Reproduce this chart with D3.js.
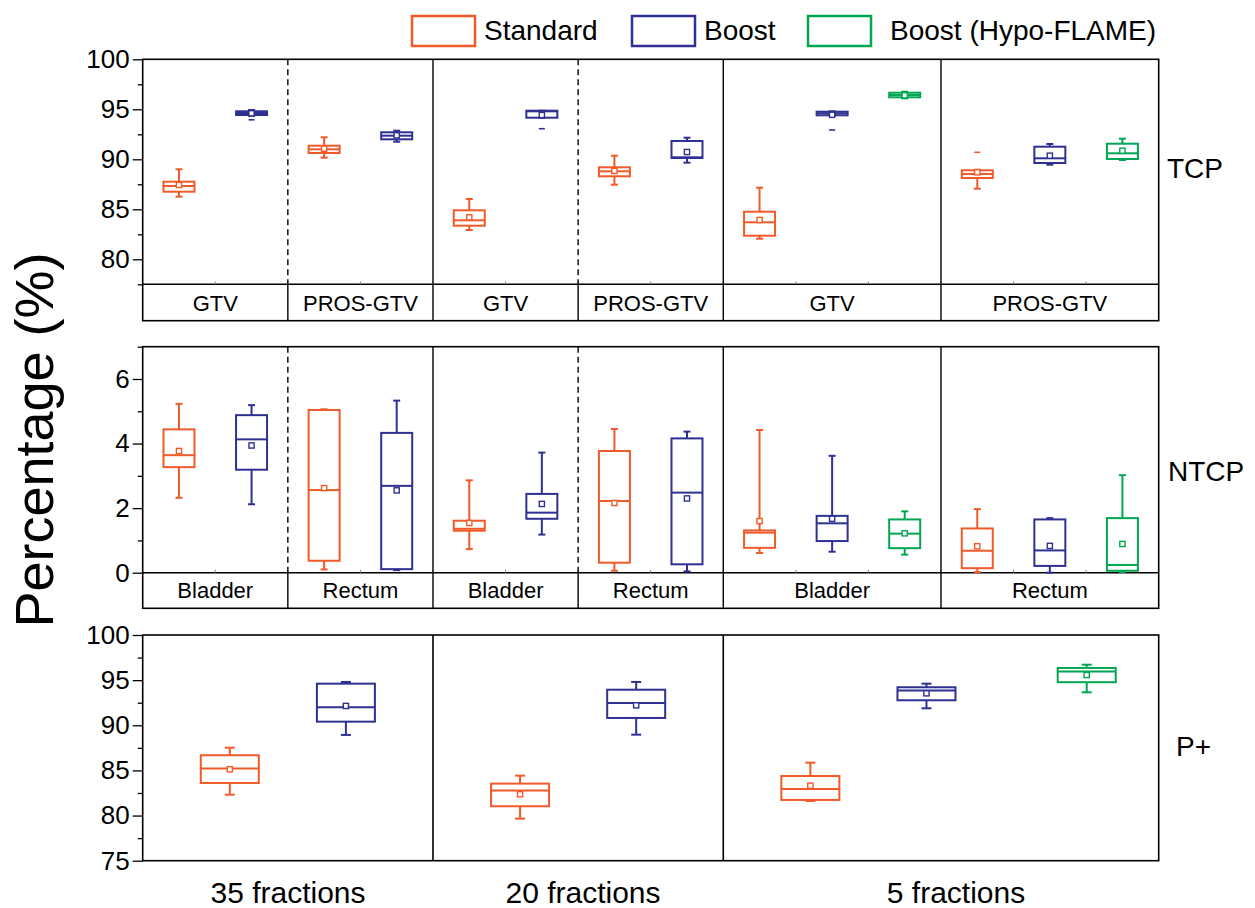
<!DOCTYPE html>
<html>
<head>
<meta charset="utf-8">
<script src="https://cdn.jsdelivr.net/npm/d3@7"></script>
<style>
  body { margin: 0; background: #fff; }
  text { font-family: "Liberation Sans", Arial, sans-serif; fill: #000; }
</style>
</head>
<body>
<svg id="chart" width="1255" height="908"></svg>
<script>
// ---- data ----
const seriesNames = ["Standard", "Boost", "Boost (Hypo-FLAME)"];
const seriesColors = ["#f15a29", "#2e3192", "#00a651"];
const groupNames = ["35 fractions", "20 fractions", "5 fractions"];
const tcpRegions = ["GTV", "PROS-GTV", "GTV", "PROS-GTV", "GTV", "PROS-GTV"];
const ntcpRegions = ["Bladder", "Rectum", "Bladder", "Rectum", "Bladder", "Rectum"];
const panelLabels = ["TCP", "NTCP", "P+"];

// series of each box slot (TCP and NTCP panels, 14 slots)
const slotSeries = [0, 1, 0, 1, 0, 1, 0, 1, 0, 1, 2, 0, 1, 2];
// slot ranges of each region (for the label strips)
const regionSlots = [[0, 2], [2, 4], [4, 6], [6, 8], [8, 11], [11, 14]];
// dividers: slot boundary, dashed or not
const dividerSlots = [2, 4, 6, 8, 11];
const dashedSlots = [2, 6];

// each row: [whisker low, Q1, median, Q3, whisker high, mean]
const tcpStats = [
  [86.26, 86.76, 87.33, 87.76, 89.0, 87.43],
  [94.35, 94.43, 94.63, 94.8, 94.93, 94.6],
  [90.16, 90.63, 91.0, 91.36, 92.2, 91.06],
  [91.76, 92.0, 92.36, 92.7, 92.86, 92.4],
  [82.93, 83.36, 83.9, 84.9, 86.03, 84.2],
  [94.16, 94.16, 94.8, 94.86, 94.86, 94.43],
  [87.46, 88.3, 88.8, 89.2, 90.36, 88.83],
  [89.66, 90.13, 90.2, 91.83, 92.16, 90.73],
  [82.06, 82.36, 83.7, 84.76, 87.16, 83.93],
  [94.4, 94.4, 94.6, 94.76, 94.8, 94.45],
  [96.1, 96.2, 96.43, 96.66, 96.76, 96.4],
  [87.06, 88.13, 88.53, 88.9, 88.96, 88.7],
  [89.46, 89.63, 90.1, 91.26, 91.53, 90.36],
  [89.93, 90.03, 90.6, 91.56, 92.06, 90.86]
];
// extra min / max dashes: [slot, value]
const tcpExtremes = [[1, 93.95], [5, 93.06], [9, 92.93], [11, 90.7]];

const ntcpStats = [
  [2.32, 3.27, 3.64, 4.44, 5.23, 3.77],
  [2.12, 3.19, 4.13, 4.88, 5.19, 3.94],
  [0.1, 0.37, 2.56, 5.04, 5.06, 2.62],
  [0.08, 0.11, 2.69, 4.33, 5.33, 2.55],
  [0.73, 1.3, 1.36, 1.61, 2.86, 1.54],
  [1.18, 1.67, 1.86, 2.44, 3.72, 2.13],
  [0.06, 0.31, 2.22, 3.77, 4.45, 2.16],
  [0.04, 0.26, 2.48, 4.16, 4.37, 2.3],
  [0.61, 0.77, 1.24, 1.31, 4.42, 1.6],
  [0.65, 0.98, 1.53, 1.76, 3.62, 1.67],
  [0.56, 0.76, 1.21, 1.65, 1.9, 1.22],
  [0.02, 0.14, 0.68, 1.37, 1.97, 0.82],
  [0.0, 0.21, 0.69, 1.65, 1.69, 0.83],
  [0.02, 0.06, 0.24, 1.69, 3.02, 0.89]
];

// P+ panel: series and category position of each box
const pplusSeries = [0, 1, 0, 1, 0, 1, 2];
const pplusPos = [0.75, 1.75, 3.25, 4.25, 5.75, 6.75, 8.13];
const pplusGroupBounds = [0, 2.5, 5, 8.75];
const pplusStats = [
  [82.31, 83.61, 85.2, 86.68, 87.52, 85.13],
  [88.93, 90.4, 91.99, 94.61, 94.8, 92.14],
  [79.66, 81.03, 82.77, 83.54, 84.42, 82.36],
  [88.96, 90.81, 92.47, 93.94, 94.8, 92.21],
  [81.62, 81.73, 82.95, 84.38, 85.86, 83.31],
  [91.88, 92.77, 93.84, 94.21, 94.61, 93.54],
  [93.65, 94.77, 95.95, 96.35, 96.71, 95.57]
];

const tcpTicks = [80, 85, 90, 95, 100];
const ntcpTicks = [0, 2, 4, 6];
const pplusTicks = [75, 80, 85, 90, 95, 100];

// ---- layout ----
const svg = d3.select("#chart");
const xLeft = 142.7, xRight = 1158.7;

const xSlot = d3.scaleLinear().domain([0, 14]).range([xLeft, xRight]);
const xP = d3.scaleLinear().domain([0, 8.75]).range([xLeft, xRight]);

const yTcp = d3.scaleLinear().domain([77.5, 100]).range([284.3, 59.3]);
const yNtcp = d3.scaleLinear().domain([0, 7]).range([572.7, 346.7]);
const yP = d3.scaleLinear().domain([75, 100]).range([860.7, 635]);

function drawBoxes(g, stats, xs, ser, x, y, halfW, capW) {
  const box = g.selectAll(null).data(stats).enter().append("g")
    .attr("stroke", (d, i) => seriesColors[ser[i]])
    .attr("fill", "none")
    .attr("stroke-width", 2);
  // whiskers
  box.append("line")
    .attr("x1", (d, i) => x(xs[i])).attr("x2", (d, i) => x(xs[i]))
    .attr("y1", d => y(d[4])).attr("y2", d => y(d[3]));
  box.append("line")
    .attr("x1", (d, i) => x(xs[i])).attr("x2", (d, i) => x(xs[i]))
    .attr("y1", d => y(d[1])).attr("y2", d => y(d[0]));
  box.append("line")
    .attr("x1", (d, i) => x(xs[i]) - capW).attr("x2", (d, i) => x(xs[i]) + capW)
    .attr("y1", d => y(d[4])).attr("y2", d => y(d[4]));
  box.append("line")
    .attr("x1", (d, i) => x(xs[i]) - capW).attr("x2", (d, i) => x(xs[i]) + capW)
    .attr("y1", d => y(d[0])).attr("y2", d => y(d[0]));
  // box
  box.append("rect")
    .attr("x", (d, i) => x(xs[i]) - halfW)
    .attr("width", halfW * 2)
    .attr("y", d => y(d[3]))
    .attr("height", d => Math.max(1, y(d[1]) - y(d[3])));
  // median
  box.append("line")
    .attr("x1", (d, i) => x(xs[i]) - halfW).attr("x2", (d, i) => x(xs[i]) + halfW)
    .attr("y1", d => y(d[2])).attr("y2", d => y(d[2]));
  // mean
  box.append("rect")
    .attr("stroke-width", 1.4)
    .attr("x", (d, i) => x(xs[i]) - 2.6)
    .attr("y", d => y(d[5]) - 2.6)
    .attr("width", 5.2).attr("height", 5.2)
    .attr("fill", "#fff");
}

function drawYAxis(y, major, minorStep) {
  const [lo, hi] = y.domain();
  const minor = d3.range(lo, hi + 0.001, minorStep).filter(v => !major.includes(v));
  svg.append("g")
    .attr("transform", `translate(${xLeft},0)`)
    .call(d3.axisLeft(y).tickValues(minor).tickSize(5).tickFormat(""))
    .call(g => g.select(".domain").remove())
    .call(g => g.selectAll("line").attr("stroke", "#000").attr("stroke-width", 1.3));
  svg.append("g")
    .attr("transform", `translate(${xLeft},0)`)
    .call(d3.axisLeft(y).tickValues(major).tickSize(10).tickPadding(3).tickFormat(d3.format("d")))
    .call(g => g.select(".domain").remove())
    .call(g => g.selectAll("line").attr("stroke", "#000").attr("stroke-width", 1.3))
    .call(g => g.selectAll("text").attr("font-size", 26)
      .attr("font-family", "'Liberation Sans', Arial, sans-serif"));
}

function drawSlotPanel(y, stats, regions, top, plotBottom, stripBottom) {
  const g = svg.append("g");
  // frame + strip
  g.append("rect").attr("x", xLeft).attr("y", top)
    .attr("width", xRight - xLeft).attr("height", stripBottom - top)
    .attr("fill", "none").attr("stroke", "#000").attr("stroke-width", 1.6);
  g.append("line").attr("x1", xLeft).attr("x2", xRight)
    .attr("y1", plotBottom).attr("y2", plotBottom)
    .attr("stroke", "#000").attr("stroke-width", 1.6);
  // small inward ticks at slot boundaries
  g.selectAll(null).data(d3.range(1, 14)).enter().append("line")
    .attr("x1", d => xSlot(d)).attr("x2", d => xSlot(d))
    .attr("y1", plotBottom).attr("y2", plotBottom - 3)
    .attr("stroke", "#888").attr("stroke-width", 1);
  // dividers
  g.selectAll(null).data(dividerSlots).enter().append("line")
    .attr("x1", d => xSlot(d)).attr("x2", d => xSlot(d))
    .attr("y1", top).attr("y2", plotBottom)
    .attr("stroke", "#000").attr("stroke-width", 1.4)
    .attr("stroke-dasharray", d => dashedSlots.includes(d) ? "6,4" : null);
  g.selectAll(null).data(dividerSlots).enter().append("line")
    .attr("x1", d => xSlot(d)).attr("x2", d => xSlot(d))
    .attr("y1", plotBottom).attr("y2", stripBottom)
    .attr("stroke", "#000").attr("stroke-width", 1.4);
  // region labels
  g.selectAll(null).data(regions).enter().append("text")
    .attr("x", (d, i) => xSlot((regionSlots[i][0] + regionSlots[i][1]) / 2))
    .attr("y", stripBottom - 10)
    .attr("text-anchor", "middle")
    .attr("font-size", 22)
    .text(d => d);
  const xs = stats.map((d, i) => i + 0.5);
  drawBoxes(g, stats, xs, slotSeries, xSlot, y, 15.5, 3.5);
  return g;
}

// TCP panel
const gTcp = drawSlotPanel(yTcp, tcpStats, tcpRegions, 59.3, 284.3, 320.7);
gTcp.selectAll(null).data(tcpExtremes).enter().append("line")
  .attr("x1", d => xSlot(d[0] + 0.5) - 3).attr("x2", d => xSlot(d[0] + 0.5) + 3)
  .attr("y1", d => yTcp(d[1])).attr("y2", d => yTcp(d[1]))
  .attr("stroke", d => seriesColors[slotSeries[d[0]]]).attr("stroke-width", 1.6);
drawYAxis(yTcp, tcpTicks, 2.5);

// NTCP panel
drawSlotPanel(yNtcp, ntcpStats, ntcpRegions, 346.7, 572.7, 608.3);
drawYAxis(yNtcp, ntcpTicks, 1);

// P+ panel
const gP = svg.append("g");
gP.append("rect").attr("x", xLeft).attr("y", 635)
  .attr("width", xRight - xLeft).attr("height", 860.7 - 635)
  .attr("fill", "none").attr("stroke", "#000").attr("stroke-width", 1.6);
gP.selectAll(null).data(pplusGroupBounds.slice(1, 3)).enter().append("line")
  .attr("x1", d => xP(d)).attr("x2", d => xP(d))
  .attr("y1", 635).attr("y2", 860.7)
  .attr("stroke", "#000").attr("stroke-width", 1.6);
drawBoxes(gP, pplusStats, pplusPos, pplusSeries, xP, yP, 29, 5);
drawYAxis(yP, pplusTicks, 2.5);

// group labels under P+ panel
const groupCenters = [288, 583, 956];
svg.selectAll(null).data(groupNames).enter().append("text")
  .attr("x", (d, i) => groupCenters[i])
  .attr("y", 903)
  .attr("text-anchor", "middle")
  .attr("font-size", 30)
  .text(d => d);

// right-side panel labels
const panelLabelPos = [[1167, 178], [1168, 481], [1176, 756]];
svg.selectAll(null).data(panelLabels).enter().append("text")
  .attr("x", (d, i) => panelLabelPos[i][0])
  .attr("y", (d, i) => panelLabelPos[i][1])
  .attr("font-size", 28)
  .text(d => d);

// y title
svg.append("text")
  .attr("transform", "translate(53,440) rotate(-90)")
  .attr("text-anchor", "middle")
  .attr("font-size", 54)
  .text("Percentage (%)");

// legend
const legendX = [412, 632, 808];
const legendTextX = [484, 704, 890];
const leg = svg.selectAll(null).data(seriesNames).enter().append("g");
leg.append("rect")
  .attr("x", (d, i) => legendX[i]).attr("y", 16)
  .attr("width", 63).attr("height", 30)
  .attr("fill", "none").attr("stroke", (d, i) => seriesColors[i]).attr("stroke-width", 2.5);
leg.append("text")
  .attr("x", (d, i) => legendTextX[i]).attr("y", 40)
  .attr("font-size", 28)
  .text(d => d);
</script>
</body>
</html>
